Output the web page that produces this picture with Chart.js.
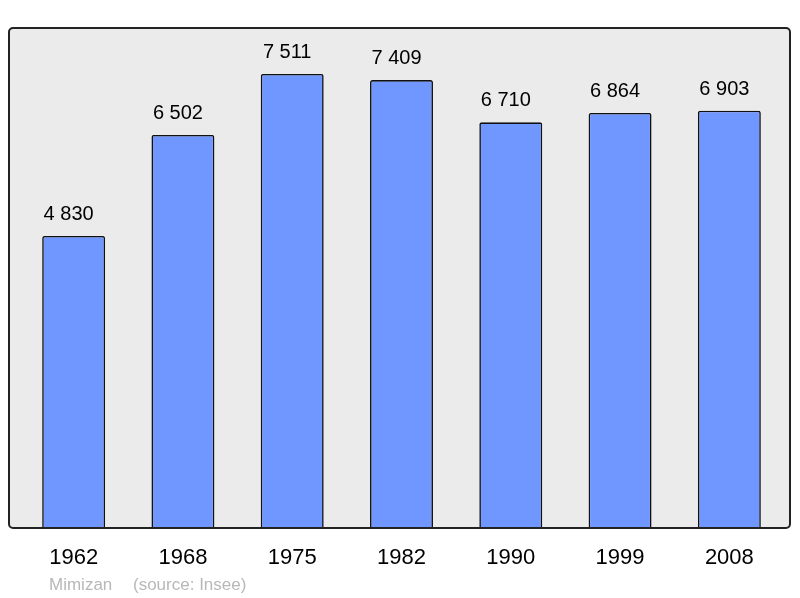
<!DOCTYPE html>
<html>
<head>
<meta charset="utf-8">
<script src="https://cdn.jsdelivr.net/npm/chart.js@4/dist/chart.umd.min.js"></script>
<style>
  html, body { margin: 0; padding: 0; background: #fff; }
  #wrap { width: 800px; height: 598px; }
</style>
</head>
<body>
<div id="wrap"><canvas id="chart"></canvas></div>
<script>
const years = ["1962", "1968", "1975", "1982", "1990", "1999", "2008"];
const population = [4830, 6502, 7511, 7409, 6710, 6864, 6903];
const town = "Mimizan";
const source = "(source: Insee)";

const fmt = (v) => String(v).replace(/\B(?=(\d{3})+(?!\d))/g, " ");

const frame = {
  id: "frame",
  beforeDatasetsDraw(chart) {
    const { ctx, chartArea: a } = chart;
    ctx.save();
    ctx.beginPath();
    ctx.roundRect(a.left - 10, a.top, a.right - a.left + 16, a.bottom - a.top, 4);
    ctx.fillStyle = "#ebebeb";
    ctx.fill();
    ctx.restore();
  },
  afterDatasetsDraw(chart) {
    const { ctx, chartArea: a } = chart;
    const x = chart.scales.x;
    const meta = chart.getDatasetMeta(0);
    ctx.save();
    ctx.beginPath();
    ctx.roundRect(a.left - 10, a.top, a.right - a.left + 16, a.bottom - a.top, 4);
    ctx.lineWidth = 2;
    ctx.strokeStyle = "#222";
    ctx.stroke();

    ctx.fillStyle = "#000";
    ctx.textAlign = "center";
    ctx.textBaseline = "middle";
    ctx.font = "20px 'Liberation Sans', Arial, sans-serif";
    meta.data.forEach((bar, i) => {
      ctx.fillText(fmt(population[i]), bar.x - 5, bar.y - 21.5);
    });
    ctx.font = "22px 'Liberation Sans', Arial, sans-serif";
    years.forEach((y, i) => {
      ctx.fillText(y, x.getPixelForValue(i), a.bottom + 30);
    });
    ctx.textAlign = "left";
    ctx.textBaseline = "alphabetic";
    ctx.font = "17px 'Liberation Sans', Arial, sans-serif";
    ctx.fillStyle = "#b8b8b8";
    ctx.fillText(town, 49, a.bottom + 62);
    ctx.fillText(source, 133, a.bottom + 62);
    ctx.restore();
  }
};

new Chart(document.getElementById("chart"), {
  type: "bar",
  data: {
    labels: years,
    datasets: [
      {
        data: population,
        backgroundColor: "#7096ff",
        borderColor: "#111",
        borderWidth: 1.6,
        borderRadius: 2,
        borderSkipped: "bottom",
        barPercentage: 0.576,
        categoryPercentage: 1,
      },
    ],
  },
  options: {
    responsive: true,
    maintainAspectRatio: false,
    animation: false,
    layout: { padding: { left: 19, right: 16, top: 28, bottom: 70 } },
    plugins: {
      legend: { display: false },
      tooltip: { enabled: false },
    },
    scales: {
      x: { display: false },
      y: { display: false, min: 0, max: 8270 },
    },
  },
  plugins: [frame],
});
</script>
</body>
</html>
